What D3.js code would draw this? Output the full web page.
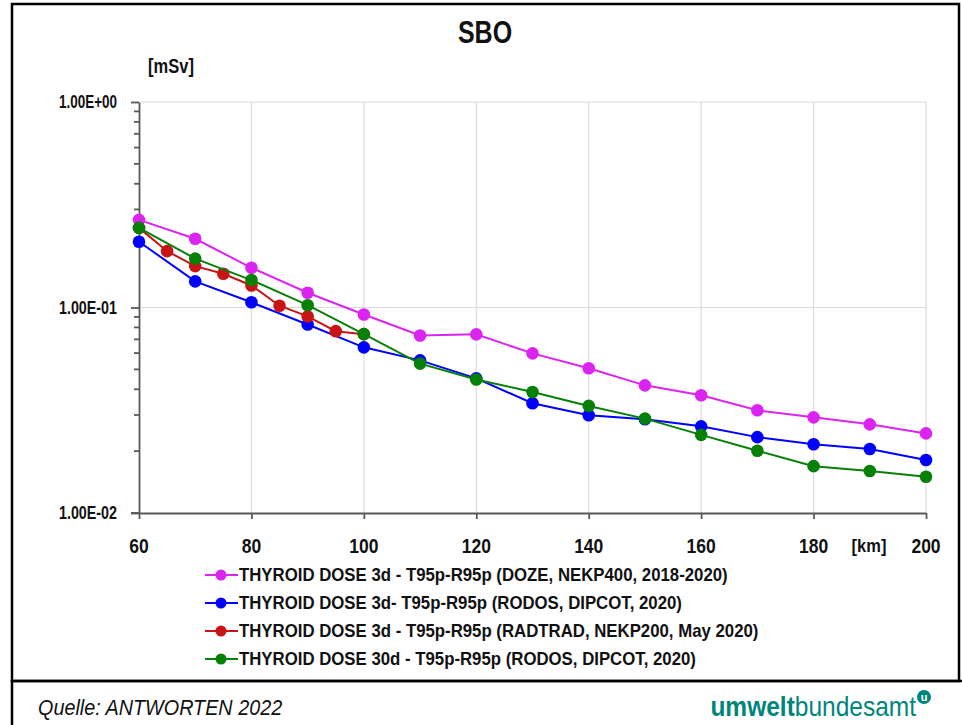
<!DOCTYPE html>
<html>
<head>
<meta charset="utf-8">
<script src="https://cdn.jsdelivr.net/npm/d3@7"></script>
<style>
  body { margin: 0; background: #fff; }
  text { font-family: "Liberation Sans", Arial, sans-serif; fill: #111; }
</style>
</head>
<body>
<div id="chart"></div>
<script>
// distances [km]
var xDoze = [60, 70, 80, 90, 100, 110, 120, 130, 140, 150, 160, 170, 180, 190, 200];
var xRadtrad = [60, 65, 70, 75, 80, 85, 90, 95, 100];

// thyroid dose [mSv]
var doze3d = [0.267, 0.216, 0.156, 0.118, 0.0925, 0.0731, 0.074, 0.0598, 0.0506, 0.0418, 0.0374, 0.0316, 0.0292, 0.027, 0.0244];
var rodos3d = [0.209, 0.134, 0.106, 0.0827, 0.064, 0.0553, 0.0452, 0.0342, 0.0299, 0.0286, 0.0264, 0.0234, 0.0216, 0.0205, 0.0181];
var radtrad3d = [0.244, 0.188, 0.159, 0.146, 0.128, 0.102, 0.0905, 0.0767, 0.0742];
var rodos30d = [0.244, 0.173, 0.136, 0.1026, 0.0742, 0.0533, 0.0446, 0.0388, 0.0332, 0.0288, 0.024, 0.0201, 0.0169, 0.016, 0.015];

var seriesNames = [
  "THYROID DOSE 3d - T95p-R95p (DOZE, NEKP400, 2018-2020)",
  "THYROID DOSE 3d- T95p-R95p (RODOS, DIPCOT, 2020)",
  "THYROID DOSE 3d - T95p-R95p (RADTRAD, NEKP200,  May 2020)",
  "THYROID DOSE 30d - T95p-R95p (RODOS, DIPCOT, 2020)"
];
var seriesColors = ["#dc24f2", "#0000ff", "#c81414", "#078007"];

var xTicks = [60, 80, 100, 120, 140, 160, 180, 200];
var yTicks = [1, 0.1, 0.01];
var yTickLabels = ["1.00E+00", "1.00E-01", "1.00E-02"];

var series = [
  { name: seriesNames[0], color: seriesColors[0], x: xDoze, y: doze3d },
  { name: seriesNames[1], color: seriesColors[1], x: xDoze, y: rodos3d },
  { name: seriesNames[2], color: seriesColors[2], x: xRadtrad, y: radtrad3d },
  { name: seriesNames[3], color: seriesColors[3], x: xDoze, y: rodos30d }
];

var width = 962, height = 725;
var plot = { left: 139, right: 926, top: 102, bottom: 513 };
var axisColor = "#595959";

var svg = d3.select("#chart").append("svg")
  .attr("width", width)
  .attr("height", height);

// the source picture is a bit taller than wide, so texts get stretched
var tr = (x, y, k) => "translate(" + x + "," + y + ") scale(1," + (k || 1.2) + ")";

// frame
svg.append("rect")
  .attr("x", 12).attr("y", 4)
  .attr("width", 947).attr("height", 677)
  .attr("fill", "none").attr("stroke", "#000").attr("stroke-width", 2.5);
svg.append("line")
  .attr("x1", 12).attr("x2", 12).attr("y1", 680).attr("y2", height)
  .attr("stroke", "#000").attr("stroke-width", 2.5);
svg.append("line")
  .attr("x1", 12).attr("x2", width).attr("y1", 681).attr("y2", 681)
  .attr("stroke", "#000").attr("stroke-width", 2.5);

var x = d3.scaleLinear().domain([60, 200]).range([plot.left, plot.right]);
var y = d3.scaleLog().domain([0.01, 1]).range([plot.bottom, plot.top]);

// grid
var grid = svg.append("g").attr("stroke", "#dcdcdc").attr("stroke-width", 1.2);
grid.selectAll(".gx").data(xTicks.slice(1)).enter().append("line")
  .attr("x1", d => x(d)).attr("x2", d => x(d))
  .attr("y1", plot.top).attr("y2", plot.bottom);
grid.selectAll(".gy").data(yTicks.slice(0, 2)).enter().append("line")
  .attr("x1", plot.left).attr("x2", plot.right)
  .attr("y1", d => y(d)).attr("y2", d => y(d));

// y axis with log minor ticks
var minorTicks = [];
[0.01, 0.1].forEach(function (dec) {
  for (var i = 2; i <= 9; i++) minorTicks.push(dec * i);
});
var yAxis = svg.append("g").attr("transform", "translate(" + plot.left + ",0)");
yAxis.call(d3.axisLeft(y).tickValues(yTicks).tickSize(8).tickSizeOuter(0).tickFormat(""));
yAxis.selectAll(".minor").data(minorTicks).enter().append("line")
  .attr("x1", -5).attr("x2", 0)
  .attr("y1", d => y(d)).attr("y2", d => y(d))
  .attr("stroke", axisColor).attr("stroke-width", 1.8);
yAxis.select(".domain").attr("stroke", axisColor).attr("stroke-width", 1.8);
yAxis.selectAll(".tick line").attr("stroke", axisColor).attr("stroke-width", 1.8);

svg.selectAll(".ylab").data(yTicks).enter().append("text")
  .attr("transform", d => tr(117, y(d) + 6, 1.2))
  .attr("text-anchor", "end")
  .attr("font-size", 15.5).attr("font-weight", "bold")
  .attr("textLength", 58).attr("lengthAdjust", "spacingAndGlyphs")
  .text((d, i) => yTickLabels[i]);

// x axis
var xAxis = svg.append("g").attr("transform", "translate(0," + plot.bottom + ")");
xAxis.call(d3.axisBottom(x).tickValues(xTicks).tickSize(6).tickSizeOuter(0).tickFormat(""));
xAxis.select(".domain").attr("stroke", axisColor).attr("stroke-width", 1.8);
xAxis.selectAll(".tick line").attr("stroke", axisColor).attr("stroke-width", 1.8);
xAxis.append("line").attr("x1", plot.left - 8).attr("x2", plot.left)
  .attr("stroke", axisColor).attr("stroke-width", 1.8);

svg.selectAll(".xlab").data(xTicks).enter().append("text")
  .attr("transform", d => tr(x(d), 553, 1.15))
  .attr("text-anchor", "middle")
  .attr("font-size", 17.5).attr("font-weight", "bold")
  .text(d => d);

svg.append("text").attr("transform", tr(869, 552, 1.15)).attr("text-anchor", "middle")
  .attr("font-size", 16.5).attr("font-weight", "bold").text("[km]");
svg.append("text").attr("transform", tr(171, 73, 1.2)).attr("text-anchor", "middle")
  .attr("font-size", 16.5).attr("font-weight", "bold").text("[mSv]");
svg.append("text").attr("transform", tr(485, 43, 1.25)).attr("text-anchor", "middle")
  .attr("font-size", 25).attr("font-weight", "bold").text("SBO");

// series
var line = d3.line().x(d => x(d[0])).y(d => y(d[1]));
series.forEach(function (s) {
  var pts = s.x.map((v, i) => [v, s.y[i]]);
  var g = svg.append("g");
  g.append("path").datum(pts)
    .attr("d", line).attr("fill", "none")
    .attr("stroke", s.color).attr("stroke-width", 2);
  g.selectAll("circle").data(pts).enter().append("circle")
    .attr("cx", d => x(d[0])).attr("cy", d => y(d[1]))
    .attr("r", 6.3).attr("fill", s.color);
});

// legend
var legend = svg.append("g").attr("transform", "translate(205,575)");
var rows = legend.selectAll("g").data(series).enter().append("g")
  .attr("transform", (d, i) => "translate(0," + i * 28 + ")");
rows.append("line").attr("x1", 0).attr("x2", 33)
  .attr("stroke", d => d.color).attr("stroke-width", 2);
rows.append("circle").attr("cx", 16).attr("r", 5.5).attr("fill", d => d.color);
rows.append("text").attr("transform", tr(34, 6, 1.1))
  .attr("font-size", 16.8).attr("font-weight", "bold")
  .text(d => d.name);

// footer
svg.append("text").attr("transform", tr(38, 715, 1.15))
  .attr("font-size", 19.8).attr("font-style", "italic")
  .text("Quelle: ANTWORTEN 2022");
var logo = svg.append("text").attr("transform", tr(916, 716, 1.1))
  .attr("text-anchor", "end").attr("font-size", 24.5).style("fill", "#00857c");
logo.append("tspan").attr("font-weight", "bold").text("umwelt");
logo.append("tspan").attr("font-weight", "normal").text("bundesamt");
svg.append("circle").attr("cx", 924).attr("cy", 697).attr("r", 7).attr("fill", "#00857c");
svg.append("text").attr("x", 924).attr("y", 701).attr("text-anchor", "middle")
  .attr("font-size", 11).attr("font-weight", "bold").style("fill", "#fff").text("u");
</script>
</body>
</html>
